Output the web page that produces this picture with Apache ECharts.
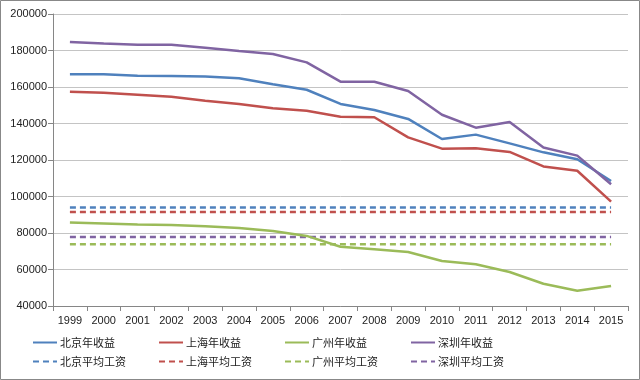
<!DOCTYPE html>
<html><head><meta charset="utf-8">
<script src="https://cdn.jsdelivr.net/npm/echarts@6/dist/echarts.min.js"></script>
<style>html,body{margin:0;padding:0;background:#fff}#c{width:640px;height:380px}</style>
</head><body><div id="c"></div>
<script>
var years = ['1999','2000','2001','2002','2003','2004','2005','2006','2007','2008','2009','2010','2011','2012','2013','2014','2015'];
var yTicks = [40000, 60000, 80000, 100000, 120000, 140000, 160000, 180000, 200000];
var names = ['北京年收益','上海年收益','广州年收益','深圳年收益','北京平均工资','上海平均工资','广州平均工资','深圳平均工资'];
var beijing  = [167000,167000,166100,166000,165800,164800,161500,158500,150700,147400,142500,131500,133900,129100,124200,120400,108500];
var shanghai = [157400,156800,155800,154700,152500,150700,148300,147000,143700,143400,132400,126200,126400,124400,116500,114100,97200];
var guangzhou= [85700,85200,84600,84400,83700,82700,81100,78400,72500,71100,69600,64700,62900,58600,52200,48400,50900];
var shenzhen = [184700,183900,183200,183100,181500,179700,178100,173500,162900,162900,157800,144800,137700,140800,126800,122400,106700];
var avgBeijing = 94000, avgShanghai = 91500, avgGuangzhou = 73800, avgShenzhen = 77800;
var colors = ['#4F81BD','#C0504D','#9BBB59','#8064A2'];

function flat(v){ return years.map(function(){ return v; }); }
var solidData = [beijing, shanghai, guangzhou, shenzhen];
var dashData = [flat(avgBeijing), flat(avgShanghai), flat(avgGuangzhou), flat(avgShenzhen)];

var series = [];
for (var i = 0; i < 4; i++) {
  series.push({name: names[i], type: 'line', data: solidData[i], symbol: 'none', smooth: false,
    lineStyle: {color: colors[i], width: 2.5}, itemStyle: {color: colors[i]}, z: 3});
}
for (var j = 0; j < 4; j++) {
  series.push({name: names[4+j], type: 'line', data: dashData[j], symbol: 'none',
    lineStyle: {color: colors[j], width: 2.5, type: [6,4]}, itemStyle: {color: colors[j]}, z: 2});
}

var legendX = [32, 158, 284, 410];
var legends = [];
for (var k = 0; k < 4; k++) {
  legends.push({
    data: [names[k], names[4+k]], orient: 'vertical', left: legendX[k], top: 337, padding: 0,
    itemWidth: 24, itemHeight: 12, itemGap: 8,
    itemStyle: {opacity: 0},
    lineStyle: {opacity: 1},
    textStyle: {fontSize: 11, color: '#222', fontFamily: 'Noto Sans CJK SC', padding: [0,0,0,-2]},
    selectedMode: false
  });
}

var chart = echarts.init(document.getElementById('c'), null, {renderer: 'canvas'});
chart.setOption({
  animation: false,
  backgroundColor: '#fff',
  legend: legends,
  grid: {left: 53, right: 12, top: 14, bottom: 74, containLabel: false},
  xAxis: {
    type: 'category', data: years, boundaryGap: true,
    axisLine: {lineStyle: {color: '#868686', width: 1}},
    axisTick: {show: true, length: 5, alignWithLabel: false, lineStyle: {color: '#868686'}},
    axisLabel: {color: '#222', fontSize: 11, margin: 9, fontFamily: 'Liberation Sans', interval: 0}
  },
  yAxis: {
    type: 'value', min: yTicks[0], max: yTicks[yTicks.length-1], interval: 20000,
    axisLine: {show: true, lineStyle: {color: '#868686', width: 1}},
    axisTick: {show: true, length: 5, lineStyle: {color: '#868686'}},
    axisLabel: {color: '#222', fontSize: 11, margin: 6, fontFamily: 'Liberation Sans',
      formatter: function(v){ return String(v); }},
    splitLine: {lineStyle: {color: '#c4c4c4', width: 1}}
  },
  graphic: [{type: 'rect', shape: {x: 0.5, y: 0.5, width: 639, height: 379},
    style: {fill: null, stroke: '#888', lineWidth: 1}, silent: true}],
  series: series
});
</script></body></html>
